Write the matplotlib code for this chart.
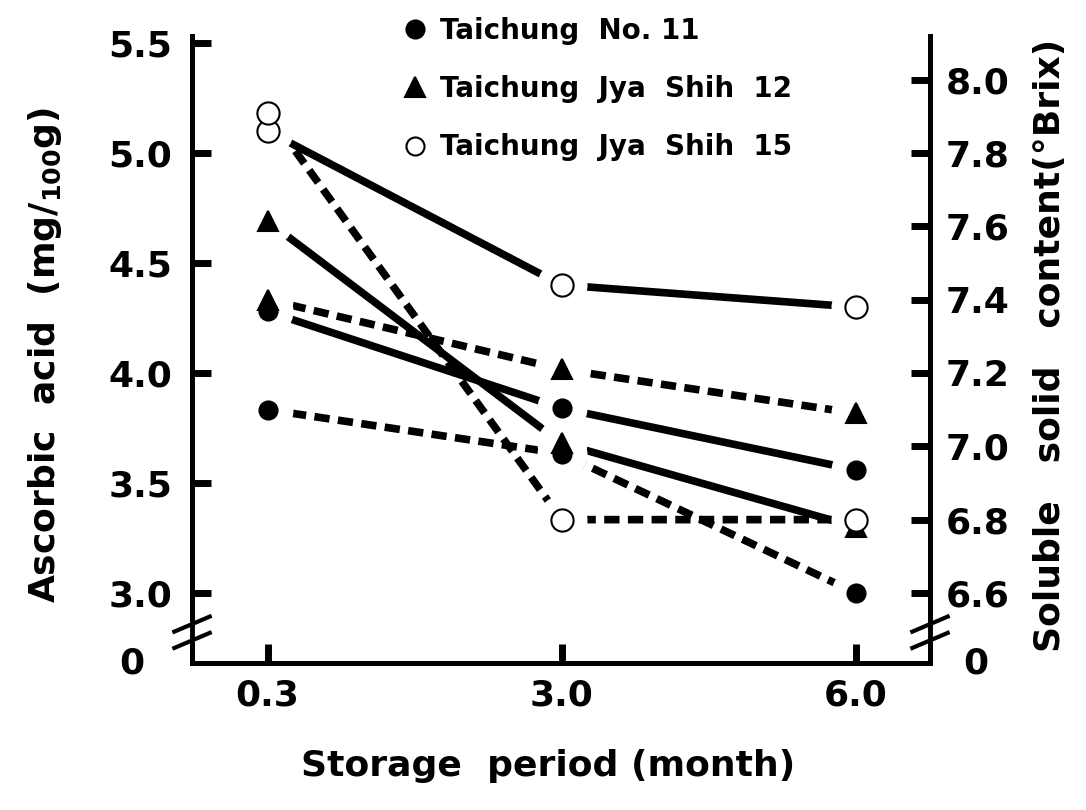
import matplotlib
matplotlib.use('Agg')
import matplotlib.pyplot as plt
from matplotlib.lines import Line2D
import numpy as np

# 貯蔵期間（月）
periods = ['0.3', '3.0', '6.0']
cultivars = ['Taichung  No. 11', 'Taichung  Jya  Shih  12', 'Taichung  Jya  Shih  15']
markers = ['o', '^', 'o']
filled = [True, True, False]

# アスコルビン酸 (mg/100g) -- 実線、左軸
ascorbic_no11 = [4.28, 3.84, 3.56]
ascorbic_js12 = [4.69, 3.68, 3.30]
ascorbic_js15 = [5.10, 4.40, 4.30]

# 可溶性固形物 (°Brix) -- 破線、右軸
brix_no11 = [7.10, 6.98, 6.60]
brix_js12 = [7.40, 7.21, 7.09]
brix_js15 = [7.91, 6.80, 6.80]

left_ticks = [3.0, 3.5, 4.0, 4.5, 5.0, 5.5]
right_ticks = [6.6, 6.8, 7.0, 7.2, 7.4, 7.6, 7.8, 8.0]

plt.rcParams['font.family'] = ['DejaVu Sans']
plt.rcParams['font.weight'] = 'bold'
plt.rcParams['mathtext.fontset'] = 'custom'
plt.rcParams['mathtext.rm'] = 'DejaVu Sans:bold'

W, H = 1086, 810
fig = plt.figure(figsize=(W / 100, H / 100), dpi=100)
ax = fig.add_axes([192 / W, 1 - 663 / H, (930 - 192) / W, (663 - 36) / H])
ax2 = ax.twinx()

x = np.arange(len(periods))

# 全データを上側の ax2 に描く（アスコルビン酸は左軸の変換を使う）
lw = 5.5
series = [
    (ax.transData, ascorbic_no11, '-'), (ax.transData, ascorbic_js12, '-'),
    (ax.transData, ascorbic_js15, '-'),
    (ax2.transData, brix_no11, '--'), (ax2.transData, brix_js12, '--'),
    (ax2.transData, brix_js15, '--'),
]
for tr, vals, ls in series:
    if ls == '-':
        ax2.plot(x, vals, color='black', lw=lw, solid_capstyle='butt', zorder=2, transform=tr)
    else:
        ax2.plot(x, vals, color='black', lw=lw, dashes=(2.0, 1.1), dash_capstyle='butt',
                 zorder=2, transform=tr)

# マーカー周りの白い余白（線を点の手前で切る）
for tr, vals, ls in series:
    ax2.plot(x, vals, ls='none', marker='o', ms=36, mfc='white', mec='white', mew=0,
             zorder=3, transform=tr)

for i, (tr, vals, ls) in enumerate(series):
    k = i % 3
    ms = 15 if markers[k] == '^' else (13 if filled[k] else 16)
    ax2.plot(x, vals, ls='none', marker=markers[k], ms=ms,
             mfc='black' if filled[k] else 'white', mec='black', mew=1.5, zorder=4,
             transform=tr)

ax.set_xlim(-0.257, 2.252)
ax.set_ylim(2.682, 5.532)
ax2.set_ylim(6.409, 8.119)

for a in (ax, ax2):
    a.spines['top'].set_visible(False)
    for s in ('left', 'right', 'bottom'):
        a.spines[s].set_linewidth(3.5)

ax.set_xticks(x)
ax.set_xticklabels(periods)
ax.set_yticks(left_ticks)
ax.set_yticklabels(['%.1f' % v for v in left_ticks])
ax2.set_yticks(right_ticks)
ax2.set_yticklabels(['%.1f' % v for v in right_ticks])

ax.tick_params(axis='both', direction='in', length=14, width=5, labelsize=26)
ax.tick_params(axis='y', pad=14)
ax.tick_params(axis='x', pad=11)
ax2.tick_params(axis='y', direction='in', length=14, width=5, labelsize=26, pad=11)

# 軸の省略記号
for xa in (0.0, 1.0):
    for yb in (0.036, 0.062):
        ax.plot([xa - 0.024, xa + 0.024], [yb - 0.012, yb + 0.012], color='black', lw=3,
                transform=ax.transAxes, clip_on=False, zorder=6)
    ax.plot([xa, xa], [0.038, 0.060], color='white', lw=6,
            transform=ax.transAxes, clip_on=False, zorder=5)

ax.text(-0.065, 0.0, '0', transform=ax.transAxes, fontsize=26, ha='right', va='center')
ax.text(1.045, 0.0, '0', transform=ax.transAxes, fontsize=26, ha='left', va='center')

fig.text(45 / W, 1 - 355 / H, 'Ascorbic  acid  (mg/$\\mathrm{_{100}}$g)', rotation=90,
         fontsize=26, ha='center', va='center')
fig.text(1050 / W, 1 - 345 / H, 'Soluble   solid   content(°Brix)', rotation=90,
         fontsize=26, ha='center', va='center')
fig.text(548 / W, 1 - 766 / H, 'Storage  period (month)', fontsize=26, ha='center', va='center')

handles = [Line2D([], [], ls='none', marker=markers[k], ms=13 if markers[k] != '^' else 14,
                  mfc='black' if filled[k] else 'white', mec='black', mew=1.5)
           for k in range(3)]
fig.legend(handles, cultivars, loc='upper left', bbox_to_anchor=(390 / W, 1 - 3 / H),
           frameon=False, fontsize=20, handlelength=0.8, handletextpad=0.5,
           labelspacing=1.09, borderpad=0.0)

fig.savefig('out.png', dpi=100)
